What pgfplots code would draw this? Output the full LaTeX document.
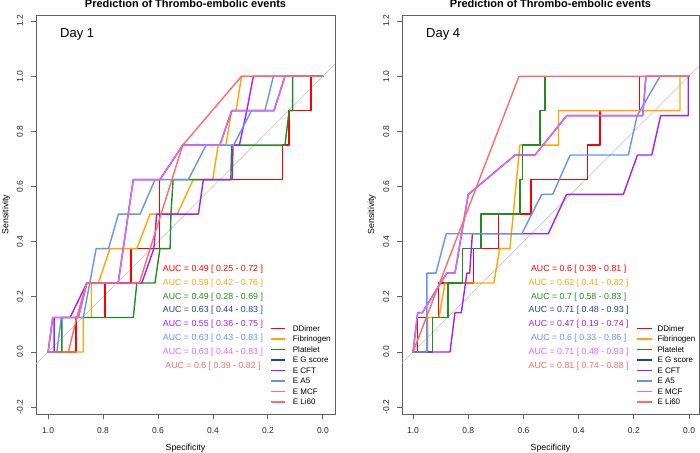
\documentclass[border=0pt]{standalone}
\usepackage{fontspec}
\setmainfont{Liberation Sans}
\usepackage{pgfplots}
\pgfplotsset{compat=1.18}
\definecolor{cDD}{HTML}{FF0000}
\definecolor{cFib}{HTML}{FFA500}
\definecolor{cPlt}{HTML}{228B22}
\definecolor{cGs}{HTML}{27408B}
\definecolor{cCFT}{HTML}{A020F0}
\definecolor{cA5}{HTML}{6495ED}
\definecolor{cMCF}{HTML}{E066FF}
\definecolor{cLi}{HTML}{FF6A6A}
\definecolor{axgray}{HTML}{606060}
\definecolor{diag}{HTML}{C4C4C4}
\tikzset{auc/.style={font=\fontsize{8.8}{10}\selectfont, anchor=center, inner sep=0pt}}
\pgfplotsset{
  rocaxis/.style={
    scale only axis, anchor=south west,
    height=399pt, ymin=-0.225, ymax=1.222,
    x dir=reverse,
    xtick={0,0.2,0.4,0.6,0.8,1}, xticklabels={0.0,0.2,0.4,0.6,0.8,1.0},
    ytick={-0.2,0,0.2,0.4,0.6,0.8,1,1.2},
    yticklabels={-0.2,0.0,0.2,0.4,0.6,0.8,1.0,1.2},
    xtick pos=left, ytick pos=left,
    tick align=outside, major tick length=5pt,
    axis line style={draw=axgray, line width=0.9pt},
    every tick/.style={draw=axgray, line width=0.9pt},
    tick label style={font=\fontsize{8.5}{10}\selectfont, text=black!85},
    xticklabel style={anchor=base, yshift=-14pt},
    yticklabel style={rotate=90, anchor=base},
    yticklabel shift=8pt,
    every axis plot/.append style={line width=1.4pt, line join=round, line cap=round},
  },
}
\begin{document}
\begin{tikzpicture}[x=1pt,y=1pt]
\path[use as bounding box] (0,0) rectangle (700,452);
% ---------------- Day 1 ----------------
\begin{axis}[rocaxis, at={(36pt,38pt)}, width=299pt, xmin=-0.044, xmax=1.044]
\addplot[diag, line width=0.6pt] coordinates {(1.2,-0.2) (-0.2,1.2)};
\addplot[cDD] coordinates {(1,0)(0.898,0)(0.898,0.125)(0.793,0.125)(0.793,0.25)(0.699,0.25)(0.699,0.375)(0.595,0.375)(0.595,0.625)(0.147,0.625)(0.147,0.75)(0.123,0.75)(0.123,0.875)(0.044,0.875)(0.044,1)(0,1)};
\addplot[cFib] coordinates {(1,0)(0.872,0)(0.872,0.125)(0.842,0.125)(0.842,0.25)(0.817,0.25)(0.775,0.375)(0.677,0.375)(0.629,0.5)(0.53,0.5)(0.472,0.625)(0.401,0.625)(0.381,0.75)(0.353,0.75)(0.332,0.875)(0.316,0.875)(0.296,1)(0,1)};
\addplot[cPlt] coordinates {(1,0)(0.95,0)(0.95,0.125)(0.69,0.125)(0.677,0.25)(0.611,0.25)(0.593,0.375)(0.556,0.375)(0.553,0.5)(0.545,0.625)(0.335,0.625)(0.332,0.75)(0.138,0.75)(0.123,0.875)(0.11,0.875)(0.11,1)(0,1)};
\addplot[cGs] coordinates {(1,0)(0.983,0.125)(0.89,0.125)(0.859,0.25)(0.745,0.25)(0.69,0.625)(0.593,0.625)(0.51,0.75)(0.375,0.75)(0.332,0.875)(0.178,0.875)(0.138,1)(0,1)};
\addplot[cCFT] coordinates {(1,0)(0.978,0)(0.978,0.125)(0.92,0.125)(0.859,0.25)(0.659,0.25)(0.615,0.375)(0.605,0.5)(0.453,0.5)(0.435,0.625)(0.33,0.625)(0.327,0.75)(0.304,0.75)(0.277,0.875)(0.253,1)(0,1)};
\addplot[cA5] coordinates {(1,0)(0.968,0)(0.952,0.125)(0.872,0.125)(0.825,0.375)(0.78,0.375)(0.744,0.5)(0.665,0.5)(0.611,0.625)(0.49,0.625)(0.425,0.75)(0.325,0.75)(0.26,0.875)(0.211,0.875)(0.18,1)(0,1)};
\addplot[cMCF] coordinates {(1,0)(0.983,0.125)(0.89,0.125)(0.859,0.25)(0.745,0.25)(0.69,0.625)(0.593,0.625)(0.51,0.75)(0.375,0.75)(0.332,0.875)(0.178,0.875)(0.138,1)(0,1)};
\addplot[cLi] coordinates {(1,0)(0.926,0)(0.896,0.125)(0.86,0.25)(0.668,0.25)(0.51,0.75)(0.296,1)(0,1)};
\node[auc, text=cDD]   at (axis cs:0.4,0.30) {AUC = 0.49 [ 0.25 - 0.72 ]};
\node[auc, text=cFib]  at (axis cs:0.4,0.25) {AUC = 0.59 [ 0.42 - 0.76 ]};
\node[auc, text=cPlt]  at (axis cs:0.4,0.20) {AUC = 0.49 [ 0.28 - 0.69 ]};
\node[auc, text=cGs]   at (axis cs:0.4,0.15) {AUC = 0.63 [ 0.44 - 0.83 ]};
\node[auc, text=cCFT]  at (axis cs:0.4,0.10) {AUC = 0.55 [ 0.36 - 0.75 ]};
\node[auc, text=cA5]   at (axis cs:0.4,0.05) {AUC = 0.63 [ 0.43 - 0.83 ]};
\node[auc, text=cMCF]  at (axis cs:0.4,0.00) {AUC = 0.63 [ 0.44 - 0.83 ]};
\node[auc, text=cLi]   at (axis cs:0.4,-0.05) {AUC = 0.6 [ 0.39 - 0.82 ]};
\end{axis}
% ---------------- Day 4 ----------------
\begin{axis}[rocaxis, at={(402pt,38pt)}, width=297pt, xmin=-0.036, xmax=1.040]
\addplot[diag, line width=0.6pt] coordinates {(1.2,-0.2) (-0.2,1.2)};
\addplot[cDD] coordinates {(1,0)(0.983,0)(0.983,0.125)(0.908,0.125)(0.908,0.25)(0.782,0.25)(0.782,0.375)(0.691,0.375)(0.691,0.5)(0.572,0.5)(0.572,0.625)(0.368,0.625)(0.368,0.75)(0.322,0.75)(0.322,0.875)(0.18,0.875)(0.18,1)(0,1)};
\addplot[cFib] coordinates {(1,0)(0.947,0)(0.947,0.125)(0.906,0.125)(0.884,0.25)(0.707,0.25)(0.686,0.375)(0.649,0.375)(0.613,0.75)(0.473,0.75)(0.473,0.875)(0.033,0.875)(0.033,1)(0,1)};
\addplot[cPlt] coordinates {(1,0)(0.93,0)(0.93,0.125)(0.874,0.125)(0.874,0.25)(0.821,0.25)(0.821,0.375)(0.754,0.375)(0.754,0.5)(0.612,0.5)(0.612,0.625)(0.603,0.625)(0.603,0.75)(0.54,0.75)(0.54,0.875)(0.522,0.875)(0.522,1)(0,1)};
\addplot[cGs] coordinates {(1,0)(0.983,0.1429)(0.966,0.1429)(0.878,0.2857)(0.848,0.2857)(0.80,0.5714)(0.63,0.7143)(0.558,0.7143)(0.443,0.8571)(0.168,0.8571)(0.156,1)(0,1)};
\addplot[cCFT] coordinates {(1,0)(0.866,0)(0.848,0.1429)(0.825,0.1429)(0.805,0.2857)(0.795,0.2857)(0.785,0.4286)(0.51,0.4286)(0.444,0.5714)(0.238,0.5714)(0.187,0.7143)(0.135,0.7143)(0.103,0.8571)(0.003,0.8571)(0.003,1)(0,1)};
\addplot[cA5] coordinates {(1,0)(0.95,0)(0.95,0.2857)(0.917,0.2857)(0.88,0.4286)(0.606,0.4286)(0.534,0.5714)(0.494,0.5714)(0.431,0.7143)(0.22,0.7143)(0.188,0.8571)(0.105,1)(0,1)};
\addplot[cMCF] coordinates {(1,0)(0.983,0.1429)(0.966,0.1429)(0.878,0.2857)(0.848,0.2857)(0.80,0.5714)(0.63,0.7143)(0.558,0.7143)(0.443,0.8571)(0.168,0.8571)(0.156,1)(0,1)};
\addplot[cLi] coordinates {(1,0)(0.616,1)(0,1)};
\node[auc, text=cDD]   at (axis cs:0.4,0.30) {AUC = 0.6 [ 0.39 - 0.81 ]};
\node[auc, text=cFib]  at (axis cs:0.4,0.25) {AUC = 0.62 [ 0.41 - 0.82 ]};
\node[auc, text=cPlt]  at (axis cs:0.4,0.20) {AUC = 0.7 [ 0.58 - 0.83 ]};
\node[auc, text=cGs]   at (axis cs:0.4,0.15) {AUC = 0.71 [ 0.48 - 0.93 ]};
\node[auc, text=cCFT]  at (axis cs:0.4,0.10) {AUC = 0.47 [ 0.19 - 0.74 ]};
\node[auc, text=cA5]   at (axis cs:0.4,0.05) {AUC = 0.6 [ 0.33 - 0.86 ]};
\node[auc, text=cMCF]  at (axis cs:0.4,0.00) {AUC = 0.71 [ 0.48 - 0.93 ]};
\node[auc, text=cLi]   at (axis cs:0.4,-0.05) {AUC = 0.81 [ 0.74 - 0.88 ]};
\end{axis}
% legends
\foreach \c/\n [count=\i from 0] in {cDD/DDimer, cFib/Fibrinogen, cPlt/Platelet, cGs/E G score, cCFT/E CFT, cA5/E A5, cMCF/E MCF, cLi/E Li60}{
  \draw[\c, line width=1.6pt] (271, 123.5-10.49*\i) -- (285.3, 123.5-10.49*\i);
  \node[font=\fontsize{8}{9}\selectfont, anchor=base west, inner sep=0pt] at (292.7, 120.8-10.49*\i) {\n};
  \draw[\c, line width=1.6pt] (636.7, 123.5-10.49*\i) -- (651.7, 123.5-10.49*\i);
  \node[font=\fontsize{8}{9}\selectfont, anchor=base west, inner sep=0pt] at (657.3, 120.8-10.49*\i) {\n};
}
% titles and labels
\node[font=\bfseries\fontsize{11}{13}\selectfont, anchor=base] at (185.5,444.5) {Prediction of Thrombo-embolic events};
\node[font=\bfseries\fontsize{11}{13}\selectfont, anchor=base] at (550.5,444.5) {Prediction of Thrombo-embolic events};
\node[font=\fontsize{13}{15}\selectfont, anchor=base west, inner sep=0pt] at (60,414.3) {Day 1};
\node[font=\fontsize{13}{15}\selectfont, anchor=base west, inner sep=0pt] at (426,414.3) {Day 4};
\node[font=\fontsize{8.8}{10}\selectfont, rotate=90, anchor=base, inner sep=0pt] at (8.3,237.5) {Sensitivity};
\node[font=\fontsize{8.8}{10}\selectfont, rotate=90, anchor=base, inner sep=0pt] at (374,237.5) {Sensitivity};
\node[font=\fontsize{8.8}{10}\selectfont, anchor=base, inner sep=0pt] at (185.5,1.7) {Specificity};
\node[font=\fontsize{8.8}{10}\selectfont, anchor=base, inner sep=0pt] at (550.5,1.7) {Specificity};
\end{tikzpicture}
\end{document}
